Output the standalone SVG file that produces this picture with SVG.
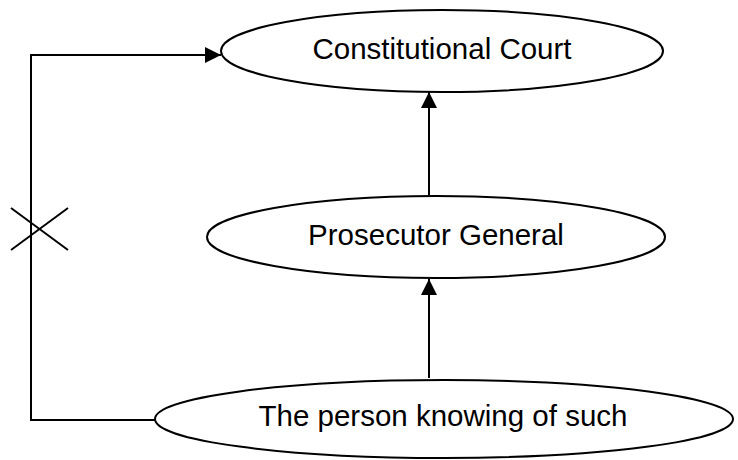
<svg xmlns="http://www.w3.org/2000/svg" width="738" height="460" viewBox="0 0 738 460">
<style>
.n{fill:#fff;stroke:#000;stroke-width:2}
.t{font-family:"Liberation Sans",Arial,sans-serif;font-size:29.5px;fill:#000;text-anchor:middle}
.c{fill:none;stroke:#000;stroke-width:2}
</style>
<defs>
<marker id="a" viewBox="0 0 16 16" refX="16" refY="8" markerWidth="16" markerHeight="16" markerUnits="userSpaceOnUse" orient="auto">
<path d="M0,0 L16,8 L0,16 z" fill="#000"/>
</marker>
</defs>
<rect width="738" height="460" fill="#fff"/>
<g id="connectors">
<path class="c" d="M155,420 L31,420 L31,55 L221,55" marker-end="url(#a)"/>
<line class="c" x1="429" y1="195" x2="429" y2="92" marker-end="url(#a)"/>
<line class="c" x1="429" y1="378" x2="429" y2="279" marker-end="url(#a)"/>
<line class="c" x1="11" y1="208" x2="68" y2="250"/>
<line class="c" x1="11" y1="250" x2="68" y2="208"/>
</g>
<g id="constitutional-court">
<ellipse class="n" cx="442" cy="51" rx="221" ry="41"/>
<text class="t" x="442" y="59">Constitutional Court</text>
</g>
<g id="prosecutor-general">
<ellipse class="n" cx="436" cy="237" rx="229" ry="41"/>
<text class="t" x="436" y="245">Prosecutor General</text>
</g>
<g id="person">
<ellipse class="n" cx="444" cy="419" rx="289" ry="39"/>
<text class="t" x="443" y="426">The person knowing of such</text>
</g>
</svg>
